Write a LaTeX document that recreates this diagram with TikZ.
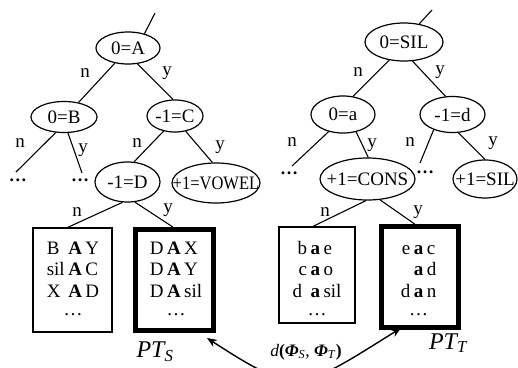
\documentclass[tikz,border=0pt]{standalone}
\usepackage{graphicx}
\usepackage{fontspec}
\setmainfont{Liberation Serif}
\usetikzlibrary{shapes.geometric,arrows.meta,calc}
\newcommand{\ctext}[1]{\makebox[0pt]{#1}}
\begin{document}
\begin{tikzpicture}[x=1pt,y=-1pt,
  tn/.style={ellipse,draw,line width=1.2pt,inner sep=0pt,font=\fontsize{19}{22}\selectfont},
  edge/.style={line width=1.1pt},
  el/.style={font=\fontsize{19}{22}\selectfont,inner sep=0pt},
  dotsn/.style={font=\fontsize{18}{21}\selectfont\bfseries,inner sep=0pt},
  thinbox/.style={draw,line width=1.2pt,inner sep=0pt},
  thickbox/.style={draw,line width=5pt,inner sep=0pt},
  boxtext/.style={font=\fontsize{19}{21.5}\selectfont,inner sep=0pt,anchor=base},
  ptlabel/.style={font=\fontsize{24}{28}\selectfont\itshape,inner sep=0pt},
  tip/.style={Stealth[length=10pt,width=8pt]}
]
\useasboundingbox (0,0) rectangle (518,367);

% ---------- left tree ----------
\node[tn,minimum width=64pt,minimum height=32pt] (A) at (128,48) {\ctext{0=A}};
\node[tn,minimum width=66pt,minimum height=31pt] (B) at (64,117) {\ctext{0=B}};
\node[tn,minimum width=56pt,minimum height=32pt] (C) at (175,116) {\ctext{-1=C}};
\node[tn,minimum width=65pt,minimum height=40pt] (D) at (127.5,182) {\ctext{-1=D}};
\node[tn,minimum width=88pt,minimum height=40pt] (V) at (216,183) {\ctext{\scalebox{0.87}[1]{+1=VOWEL}}};

\node[thinbox,minimum width=79pt,minimum height=104pt] (bL) at (72.5,280) {};
\node[thickbox,minimum width=78pt,minimum height=101pt] (bR) at (174.5,280) {};

\coordinate (rA) at (155,13);
\draw[edge] (rA) -- (A.41);
\draw[edge] (A.-131) -- (B.45);
\draw[edge] (A.-59) -- (C.97);
\coordinate (eB1) at (16,172);
\coordinate (eB2) at (82,173);
\draw[edge] (B.-118) -- (eB1);
\draw[edge] (B.-76) -- (eB2);
\draw[edge] (C.-127) -- (D.72);
\draw[edge] (C.-55) -- (V.100);
\draw[edge] (D.-104) -- ($(bL.north west)!0.44!(bL.north east)$);
\draw[edge] (D.-70) -- ($(bR.north west)!0.48!(bR.north east)$);

\node[el] (l1) at (85,73) {n};
\node[el] (l2) at (167,73) {y};
\node[el] (l3) at (20,143) {n};
\node[el] (l4) at (83,150) {y};
\node[el] (l5) at (137,143) {n};
\node[el] (l6) at (220,147) {y};
\node[el] (l7) at (77,212) {n};
\node[el] (l8) at (168,210) {y};

\node[dotsn] (dL1) at (18,180) {\ldots};
\node[dotsn] (dL2) at (80,180) {\ldots};

\node[boxtext] (tL) at (73,254) {\begin{tabular}[t]{@{}l@{\hspace{3.5pt}}c@{\hspace{3.5pt}}l@{}}
B & \textbf{A} & Y\\
sil & \textbf{A} & C\\
X & \textbf{A} & D\\[-3pt]
\multicolumn{3}{c}{\ldots}
\end{tabular}};
\node[boxtext] (tR) at (176,254) {\begin{tabular}[t]{@{}l@{\hspace{3.5pt}}c@{\hspace{3.5pt}}l@{}}
D & \textbf{A} & X\\
D & \textbf{A} & Y\\
D & \textbf{A} & sil\\[-3pt]
\multicolumn{3}{c}{\ldots}
\end{tabular}};

\node[ptlabel] (PTS) at (155,352) {PT\textsubscript{S}};

% ---------- right tree ----------
\node[tn,minimum width=78pt,minimum height=38pt] (S0) at (404,42) {\ctext{0=SIL}};
\node[tn,minimum width=64pt,minimum height=37pt] (a0) at (343,114.5) {\ctext{0=a}};
\node[tn,minimum width=65pt,minimum height=36pt] (d1) at (452.5,114.5) {\ctext{-1=d}};
\node[tn,minimum width=95pt,minimum height=42pt] (CONS) at (367.5,179) {\ctext{+1=CONS}};
\node[tn,minimum width=64pt,minimum height=38pt] (SIL1) at (485,179) {\ctext{+1=SIL}};

\node[thinbox,minimum width=76pt,minimum height=96pt] (bL2) at (317,275) {};
\node[thickbox,minimum width=77pt,minimum height=101pt] (bR2) at (420,277) {};

\coordinate (rS) at (432,10);
\draw[edge] (rS) -- (S0.50);
\draw[edge] (S0.-129) -- (a0.61);
\draw[edge] (S0.-66) -- (d1.111);
\coordinate (ea1) at (292,166);
\coordinate (ed1) at (420,163);
\draw[edge] (a0.-130) -- (ea1);
\draw[edge] (a0.-53) -- (CONS.88);
\draw[edge] (d1.-141) -- (ed1);
\draw[edge] (d1.-72) -- (SIL1.north);
\draw[edge] (CONS.-94) -- ($(bL2.north west)!0.447!(bL2.north east)$);
\draw[edge] (CONS.-59) -- ($(bR2.north west)!0.435!(bR2.north east)$);

\node[el] (r1) at (358,72) {n};
\node[el] (r2) at (440,72) {y};
\node[el] (r3) at (292,142) {n};
\node[el] (r4) at (372,145) {y};
\node[el] (r5) at (410,142) {n};
\node[el] (r6) at (493,143) {y};
\node[el] (r7) at (325,212) {n};
\node[el] (r8) at (418,212) {y};

\node[dotsn] (dR1) at (289,173) {\ldots};
\node[dotsn] (dR2) at (425,172) {\ldots};

\node[boxtext] (tL2) at (317,254) {\begin{tabular}[t]{@{}r@{\hspace{3.5pt}}c@{\hspace{3.5pt}}l@{}}
b & \textbf{a} & e\\
c & \textbf{a} & o\\
d\hspace{5pt} & \textbf{a} & sil\\[-3pt]
\multicolumn{3}{c}{\ldots}
\end{tabular}};
\node[boxtext] (tR2) at (418.5,254) {\begin{tabular}[t]{@{}r@{\hspace{3.5pt}}c@{\hspace{3.5pt}}l@{}}
e & \textbf{a} & c\\
 & \textbf{a} & d\\
d & \textbf{a} & n\\[-3pt]
\multicolumn{3}{c}{\ldots}
\end{tabular}};

\node[ptlabel] (PTT) at (448,343) {PT\textsubscript{T}};

% ---------- distance arrow ----------
\node[font=\fontsize{17.5}{20}\selectfont,inner sep=0pt] (dist) at (306,352)
  {\textit{d}\textbf{(}\textbf{\textit{Φ}}\textsubscript{\textit{S}}, \textbf{\textit{Φ}}\textsubscript{\textit{T}}\textbf{)}};
\coordinate (aL) at (207,338);
\coordinate (aR) at (401,328);
\draw[line width=1.4pt,{Stealth[length=10pt,width=8pt]}-{Stealth[length=10pt,width=8pt]}]
  (aL) .. controls (298,397) and (300,391) .. (aR);
\end{tikzpicture}
\end{document}
